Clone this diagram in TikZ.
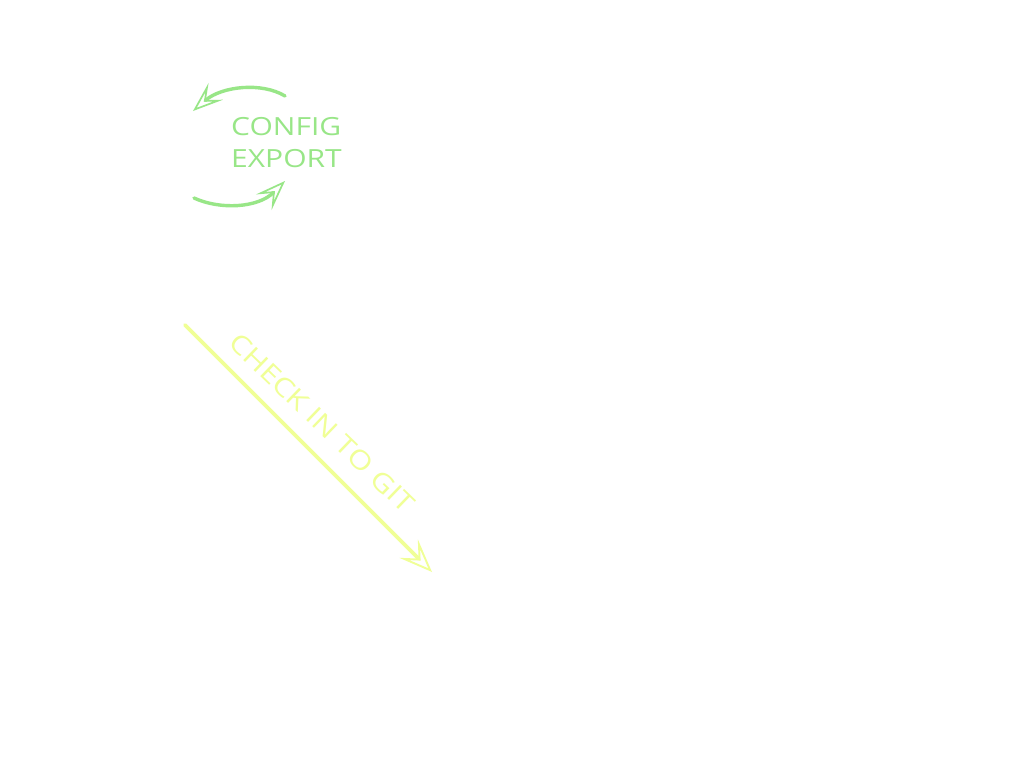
\documentclass[tikz,border=0pt]{standalone}
\usepackage{fontspec}
\setmainfont{Open Sans}
\usetikzlibrary{arrows.meta}
\definecolor{exgreen}{RGB}{152,230,135}
\definecolor{gityellow}{RGB}{240,255,150}
\tikzset{
  curvedarrow/.style={draw=exgreen, line width=3.4pt, line cap=round,
    -{Stealth[open, length=30pt, width=22pt, inset=13pt, line width=1.7pt]}},
  gitarrow/.style={draw=gityellow, line width=3.6pt, line cap=round,
    -{Stealth[open, length=33pt, width=26pt, inset=14pt, line width=1.9pt]}},
  greenlabel/.style={text=exgreen, font=\fontsize{25}{32}\selectfont, align=left, inner sep=0pt, anchor=west},
  yellowlabel/.style={text=gityellow, font=\fontsize{26}{30}\selectfont, inner sep=0pt, rotate=-44}
}
\begin{document}
\begin{tikzpicture}[x=1pt, y=-1pt]
\useasboundingbox[fill=white] (0,0) rectangle (1024,763);
% config export
\node[greenlabel] (cfg) at (231,143) {\scalebox{1.2}[1]{CONFIG}\\\scalebox{1.2}[1]{EXPORT}};
\coordinate (t1) at (285,96);
\coordinate (t2) at (193,111);
\coordinate (b1) at (194,198);
\coordinate (b2) at (285,181);
\draw[curvedarrow] (t1) .. controls (262,82) and (222,86) .. (t2);
\draw[curvedarrow] (b1) .. controls (220,210) and (258,208) .. (b2);
% check in to git
\coordinate (s) at (185,325);
\coordinate (e) at (432,572);
\draw[gitarrow] (s) -- (e);
\node[yellowlabel] (git) at (322,423) {\scalebox{1.2}[1]{CHECK IN TO GIT}};
\end{tikzpicture}
\end{document}
